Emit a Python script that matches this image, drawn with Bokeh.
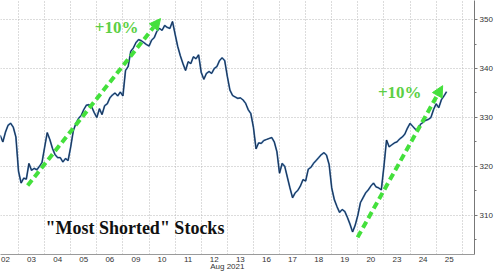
from bokeh.plotting import figure
from bokeh.models import (Range1d, FixedTicker, SingleIntervalTicker, Label, Arrow,
                          NormalHead, ColumnDataSource, LinearAxis)
from bokeh.embed import file_html
from bokeh.resources import INLINE

# ---- data -------------------------------------------------------------
day_labels = ["02", "03", "04", "05", "06", "09", "10", "11", "12", "13",
              "16", "17", "18", "19", "20", "23", "24", "25"]
month_label = "Aug 2021"
month_pos = 9.0
last_value = 335.26
points_per_session = 10

session_prices = [
    [326.5, 327.0, 326.0, 326.3, 325.0, 327.0, 328.4, 328.8, 328.0, 326.0],   # 02
    [319.0, 316.6, 317.6, 317.4, 320.6, 319.2, 319.6, 319.3, 320.0, 320.8],   # 03
    [323.9, 326.9, 325.5, 323.7, 322.4, 321.8, 321.8, 320.9, 321.6, 321.2],   # 04
    [324.0, 327.3, 328.8, 329.8, 330.4, 331.6, 332.5, 332.6, 332.2, 331.0],   # 05
    [330.0, 331.8, 330.6, 332.4, 332.8, 334.0, 334.6, 335.0, 334.4, 335.2],   # 06
    [334.4, 339.6, 340.4, 343.5, 344.2, 345.3, 345.9, 345.7, 345.3, 344.9],   # 09
    [344.6, 345.8, 346.3, 347.6, 348.2, 347.8, 348.8, 348.4, 348.2, 349.6],   # 10
    [347.0, 344.5, 342.6, 341.0, 339.6, 341.4, 341.0, 342.4, 342.0, 342.8],   # 11
    [339.2, 337.8, 339.0, 339.4, 339.0, 340.0, 340.4, 341.6, 342.2, 341.6],   # 12
    [338.4, 335.6, 334.5, 334.2, 333.9, 334.0, 333.6, 332.9, 331.6, 330.8],   # 13
    [328.0, 323.6, 324.8, 324.7, 325.3, 325.5, 325.7, 325.9, 325.0, 323.0],   # 16
    [318.6, 320.6, 320.0, 317.8, 315.6, 313.6, 314.6, 315.1, 316.0, 317.3],   # 17
    [317.0, 319.4, 319.8, 320.6, 321.2, 321.8, 322.4, 322.8, 322.3, 320.4],   # 18
    [315.6, 313.2, 311.8, 310.6, 311.2, 310.8, 309.6, 308.2, 306.6, 308.0],   # 19
    [310.0, 312.6, 313.6, 314.6, 315.2, 316.0, 316.6, 315.8, 315.6, 315.2],   # 20
    [320.0, 325.4, 324.0, 324.4, 324.8, 325.0, 325.6, 326.0, 326.6, 327.8],   # 23
    [328.8, 328.2, 327.6, 327.4, 328.6, 329.0, 329.4, 329.6, 330.0, 331.6],   # 24
    [332.8, 332.0, 333.6, 334.4, 335.26],                                     # 25
]

title_text = '"Most Shorted" Stocks'
annot_text = "+10%"
# rally annotations: (start session pos, start price, end session pos, end price)
rally1 = (1.35, 316.1, 6.44, 350.2)
rally2 = (13.99, 305.5, 17.25, 336.5)

# ---- build series -----------------------------------------------------
xs, ys = [], []
for i, prices in enumerate(session_prices):
    for k, v in enumerate(prices):
        xs.append(i + k / points_per_session)
        ys.append(v)
src = ColumnDataSource(dict(x=xs, y=ys))

p = figure(width=500, height=273, output_backend="svg", toolbar_location=None,
           x_range=Range1d(0.31, 18.47), y_range=Range1d(302.0, 353.9),
           y_axis_location="right", min_border_left=0, min_border_top=0,
           min_border_right=26, min_border_bottom=10)
p.outline_line_color = None
p.background_fill_color = "white"

p.line("x", "y", source=src, line_color="#4a7fb8", line_width=1.8)
p.line("x", "y", source=src, line_color="#0f1d36", line_width=0.8)

# axes
xa = p.xaxis[0]
xa.ticker = FixedTicker(ticks=[i + 0.5 for i in range(len(day_labels))])
xa.major_label_overrides = {i + 0.5: lab for i, lab in enumerate(day_labels)}
xa.major_tick_line_color = None
xa.minor_tick_line_color = None
xa.major_tick_in = 0
xa.major_tick_out = 0
xa.axis_line_color = "#9a9a9a"
xa.major_label_text_font = "Liberation Sans"
xa.major_label_text_font_size = "8px"
xa.major_label_text_color = "#333333"
xa.major_label_standoff = 2

xa2 = LinearAxis(ticker=FixedTicker(ticks=[month_pos]),
                 major_label_overrides={month_pos: month_label})
xa2.axis_line_color = None
xa2.major_tick_line_color = None
xa2.minor_tick_line_color = None
xa2.major_tick_in = 0
xa2.major_tick_out = 0
xa2.major_label_text_font = "Liberation Sans"
xa2.major_label_text_font_size = "8px"
xa2.major_label_text_color = "#333333"
xa2.major_label_standoff = -3
p.add_layout(xa2, "below")

ya = p.yaxis[0]
ya.ticker = SingleIntervalTicker(interval=10, num_minor_ticks=2)
ya.axis_line_color = "#777777"
ya.major_tick_line_color = "#777777"
ya.minor_tick_line_color = "#777777"
ya.major_tick_in = 0
ya.major_tick_out = 3
ya.minor_tick_in = 0
ya.minor_tick_out = 2
ya.major_label_text_font = "Liberation Sans"
ya.major_label_text_font_size = "8px"
ya.major_label_text_color = "#333333"
ya.major_label_standoff = 2

p.xgrid.ticker = FixedTicker(ticks=list(range(1, len(day_labels) + 1)))
for g in (p.xgrid[0], p.ygrid[0]):
    g.grid_line_color = "#b8b8b8"
    g.grid_line_dash = "1 2"
    g.grid_line_width = 1

# arrows
green = "#44e03c"
for (x0, y0, x1, y1) in (rally1, rally2):
    p.add_layout(Arrow(end=NormalHead(size=11, fill_color=green, line_color=green),
                       x_start=x0, y_start=y0, x_end=x1, y_end=y1,
                       line_color=green, line_width=4, line_dash="7 4"))

for (lx, ly) in ((3.92, 348.4), (14.77, 335.1)):
    p.add_layout(Label(x=lx, y=ly, text=annot_text, text_font="Liberation Serif",
                       text_font_style="bold", text_font_size="17px",
                       text_color="#5ccf45", text_baseline="middle", text_align="left"))

p.add_layout(Label(x=2.03, y=307.5, text=title_text, text_font="Liberation Serif",
                   text_font_style="bold", text_font_size="18px",
                   text_color="#111111", text_baseline="middle", text_align="left"))

p.add_layout(Label(x=18.55, y=last_value, text=f"{last_value:.2f}",
                   text_font="Liberation Sans", text_font_size="7px",
                   text_color="white", text_baseline="middle", text_align="left",
                   background_fill_color="#1a1a1a", padding=1, border_radius=2))

open("out.html", "w").write(file_html(p, INLINE))
